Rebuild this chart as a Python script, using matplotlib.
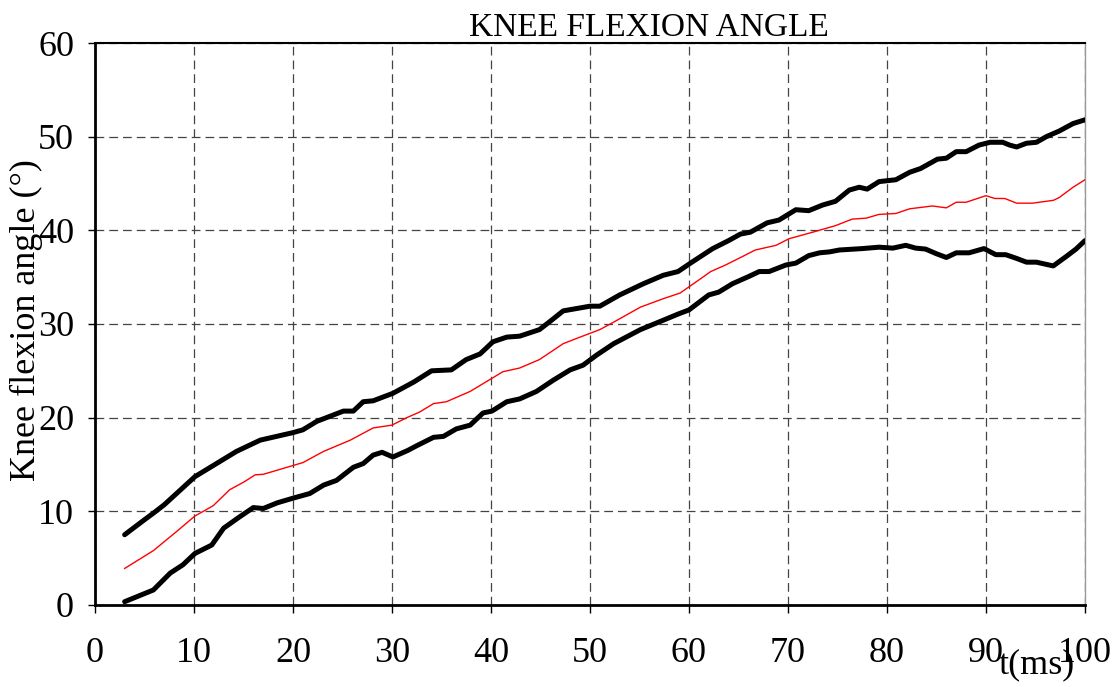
import numpy as np
import matplotlib.pyplot as plt

# upper bound (black)
x_up = [3, 5, 5.9, 7, 10.1, 14.3, 16.7, 20.0, 21.0, 22.4, 25.1, 26.1, 27.1, 28.1, 30.1,
        32.2, 34.0, 36.0, 37.5, 38.9, 40.2, 41.6, 42.9, 44.9, 46.0, 47.3, 50.0, 51.0,
        53.0, 55.4, 57.4, 58.9, 60.3, 62.4, 64.0, 65.2, 66.2, 67.9, 69.1, 70.8, 72.1,
        73.5, 74.8, 76.2, 77.2, 78.0, 79.2, 80.9, 82.3, 83.4, 85.1, 86.0, 87.0, 88.0,
        89.3, 90.4, 91.7, 92.4, 93.1, 94.1, 95.1, 96.1, 97.4, 98.8, 100]
y_up = [7.5, 9.1, 9.8, 10.7, 13.7, 16.4, 17.6, 18.4, 18.7, 19.6, 20.7, 20.7, 21.7, 21.8, 22.6,
        23.8, 25.0, 25.1, 26.2, 26.8, 28.1, 28.6, 28.7, 29.4, 30.3, 31.4, 31.9, 31.9,
        33.1, 34.3, 35.2, 35.6, 36.6, 38.05, 38.9, 39.6, 39.8, 40.8, 41.1, 42.2, 42.1,
        42.7, 43.1, 44.3, 44.6, 44.4, 45.2, 45.4, 46.2, 46.6, 47.6, 47.7, 48.4, 48.4,
        49.1, 49.4, 49.4, 49.1, 48.9, 49.3, 49.4, 50.0, 50.6, 51.4, 51.8]

# mean (red)
x_mean = [3, 5.9, 8.2, 10.1, 11.95, 13.6, 15.0, 16.2, 17.0, 21.0, 23.1, 25.8, 28.1, 30.0,
          31.5, 32.8, 34.2, 35.5, 37.9, 40.1, 41.2, 42.9, 44.9, 47.3, 49.0, 51.0, 52.4,
          55.1, 57.4, 59.1, 61.0, 62.2, 63.7, 65.4, 66.7, 68.8, 70.1, 72.5, 74.8, 76.5,
          77.9, 79.2, 80.9, 82.3, 84.6, 86.0, 87.0, 88.0, 90.0, 90.9, 91.9, 93.1, 94.7,
          96.8, 97.4, 98.8, 100]
y_mean = [3.9, 5.8, 7.8, 9.5, 10.6, 12.3, 13.1, 13.9, 13.95, 15.2, 16.4, 17.6, 18.9, 19.2,
          20.0, 20.6, 21.5, 21.7, 22.8, 24.2, 24.9, 25.3, 26.2, 27.9, 28.6, 29.4, 30.2,
          31.8, 32.7, 33.3, 34.7, 35.6, 36.3, 37.2, 37.9, 38.4, 39.1, 39.8, 40.5, 41.2,
          41.3, 41.7, 41.8, 42.3, 42.6, 42.4, 43.0, 43.0, 43.7, 43.4, 43.4, 42.9, 42.9,
          43.2, 43.5, 44.6, 45.4]

# lower bound (black)
x_lo = [3, 5.9, 7.6, 8.9, 10.1, 11.8, 13.0, 14.6, 16.0, 17.0, 18.4, 20.0, 21.7, 23.1, 24.4,
        26.1, 27.1, 28.1, 29.0, 30.1, 31.6, 32.5, 34.2, 35.2, 36.5, 37.9, 39.2, 40.1,
        41.6, 42.9, 44.6, 46.3, 48.0, 49.3, 50.7, 52.4, 55.1, 57.4, 59.0, 60.0, 62.0,
        63.0, 64.4, 66.1, 67.1, 68.1, 69.8, 70.8, 72.1, 73.2, 74.2, 75.2, 77.5, 79.2,
        80.6, 81.9, 82.9, 83.9, 85.0, 86.0, 87.0, 88.3, 89.8, 91.0, 92.0, 93.1, 94.1,
        95.1, 96.8, 98.1, 99.1, 100]
y_lo = [0.35, 1.6, 3.4, 4.3, 5.5, 6.4, 8.2, 9.4, 10.4, 10.3, 10.9, 11.4, 11.9, 12.8, 13.3,
        14.7, 15.1, 16.0, 16.3, 15.8, 16.5, 17.0, 17.9, 18.0, 18.8, 19.2, 20.5, 20.7,
        21.7, 22.0, 22.8, 24.0, 25.1, 25.6, 26.7, 27.9, 29.4, 30.4, 31.1, 31.5, 33.1,
        33.4, 34.3, 35.1, 35.6, 35.6, 36.3, 36.5, 37.3, 37.6, 37.7, 37.9, 38.05, 38.2,
        38.1, 38.4, 38.1, 38.0, 37.5, 37.1, 37.6, 37.6, 38.05, 37.4, 37.4, 37.0, 36.6,
        36.6, 36.2, 37.2, 38.0, 38.9]

plt.rcParams['font.family'] = ['Liberation Serif', 'DejaVu Serif']

fig = plt.figure(figsize=(11.17, 6.87), dpi=100)
ax = fig.add_axes([0.085, 0.1194, 0.8863, 0.818])

ax.plot(x_up, y_up, color='black', lw=3.6, solid_joinstyle='round', solid_capstyle='round', zorder=3)
ax.plot(x_mean, y_mean, color='red', lw=1.0, zorder=3)
ax.plot(x_lo, y_lo, color='black', lw=3.6, solid_joinstyle='round', solid_capstyle='round', zorder=3)

ax.set_xlim(0, 100)
ax.set_ylim(0, 60)
ax.set_xticks(np.arange(0, 101, 10))
ax.set_yticks(np.arange(0, 61, 10))
ax.grid(True, color='#444444', linestyle=(0, (7, 4)), linewidth=0.9)

ax.tick_params(axis='x', direction='out', length=6, width=1, pad=17, labelsize=26)
ax.tick_params(axis='y', direction='out', length=5, width=1, pad=10, labelsize=26)

for s in ['left', 'bottom']:
    ax.spines[s].set_linewidth(2)
ax.spines['top'].set_linewidth(1.5)
ax.spines['right'].set_color('#999999')
ax.spines['right'].set_linewidth(1)

ax.set_title('KNEE FLEXION ANGLE', fontsize=24, pad=4, x=0.56)
fig.text(0.024, 0.534, 'Knee flexion angle (°)', fontsize=26, rotation=90,
         ha='center', va='center')
fig.text(0.928, 0.032, 't(ms)', fontsize=26, ha='center', va='center')

fig.savefig('out.png', dpi=100)
